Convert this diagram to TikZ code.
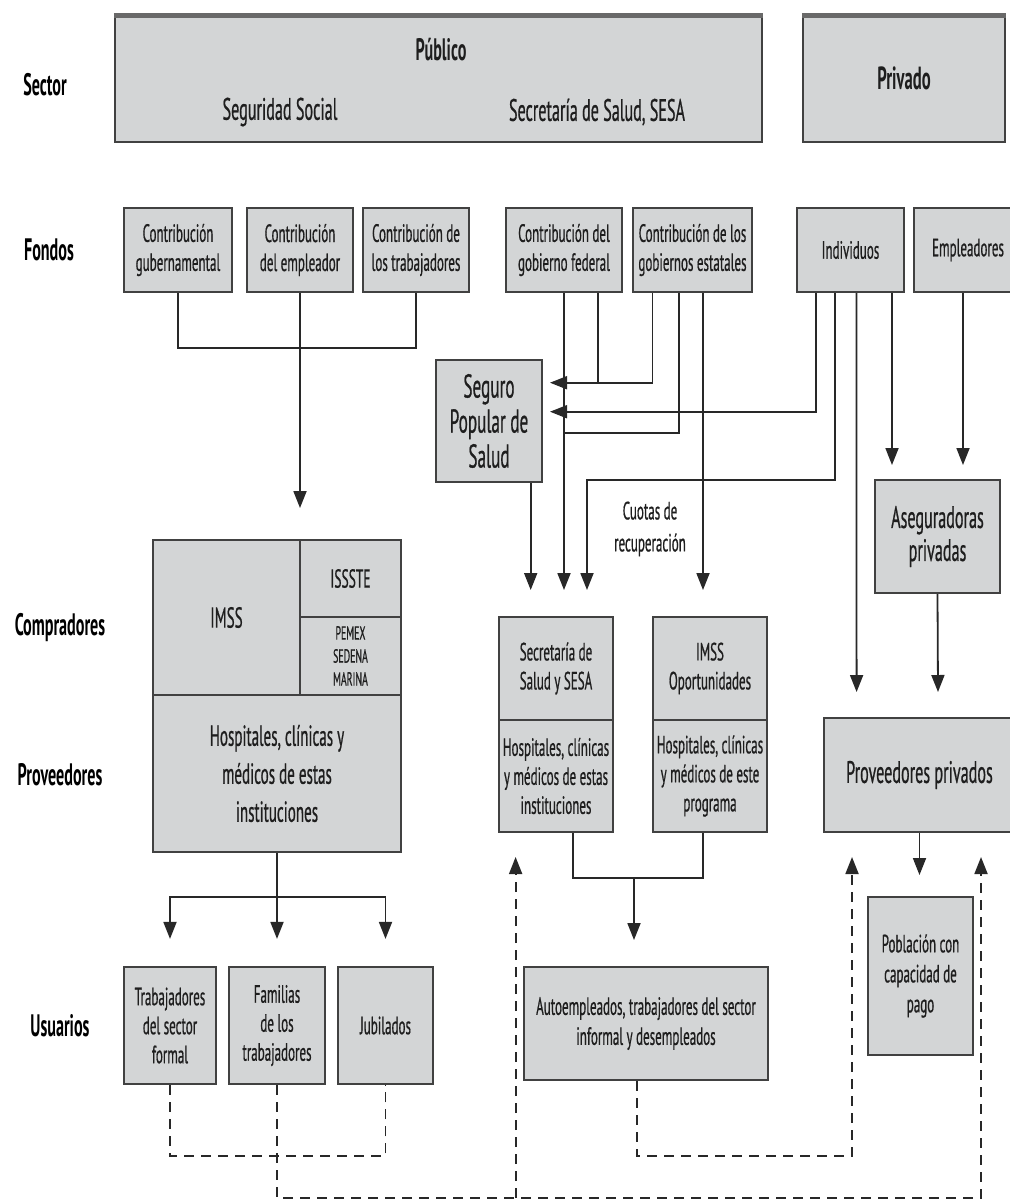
\documentclass[tikz,border=0pt]{standalone}
\usepackage{fontspec}
\setmainfont{PT Sans}[FakeStretch=0.52, UprightFeatures={FakeBold=0.6}]
\usetikzlibrary{arrows.meta,calc}
\definecolor{boxfill}{RGB}{211,213,214}
\definecolor{boxline}{RGB}{65,65,65}
\definecolor{bandc}{RGB}{105,105,105}
\definecolor{lnc}{RGB}{40,40,40}
\definecolor{txt}{RGB}{30,30,30}
\begin{document}
\begin{tikzpicture}[x=1pt,y=-1pt,
  box/.style={draw=boxline, fill=boxfill, line width=2.2pt, inner sep=0pt, align=center, text=txt, font=\fontsize{25}{29}\selectfont},
  lbl/.style={font=\bfseries\fontsize{31}{34}\selectfont, text=black},
  sectxt/.style={font=\fontsize{31}{34}\selectfont, text=txt, inner sep=0pt},
  conn/.style={draw=lnc, line width=1.8pt},
  arr/.style={conn, -{Triangle[length=17pt,width=13pt]}},
  dsh/.style={conn, dash pattern=on 10pt off 7pt},
  darr/.style={dsh, -{Triangle[length=17pt,width=13pt]}},
  band/.style={draw=bandc, line width=5pt},
]
\useasboundingbox (0,0) rectangle (1010,1203);

% ---- row labels
\node[lbl] (lsector) at (45,85) {Sector};
\node[lbl] (lfondos) at (49,250) {Fondos};
\node[lbl] (lcomp) at (60,628) {Compradores};
\node[lbl] (lprov) at (60,775) {Proveedores};
\node[lbl] (lusu) at (60,1026) {Usuarios};

% ---- sector
\node[box, minimum width=647pt, minimum height=128pt] (pub) at (438.5,78) {};
\draw[band] ([yshift=-2.5pt]pub.north west) -- ([yshift=-2.5pt]pub.north east);
\node[sectxt] (tpub) at (441,50) {\bfseries Público};
\node[sectxt] (tss) at (280,112) {Seguridad Social};
\node[sectxt] (tsesa) at (597,112) {Secretaría de Salud, SESA};
\node[box, minimum width=202pt, minimum height=128pt, font=\bfseries\fontsize{32}{34}\selectfont] (priv) at (904,78) {Privado};
\draw[band] ([yshift=-2.5pt]priv.north west) -- ([yshift=-2.5pt]priv.north east);

% ---- fondos
\node[box, minimum width=108pt, minimum height=84pt] (f1) at (178,250) {Contribución\\gubernamental};
\node[box, minimum width=106pt, minimum height=84pt] (f2) at (300,250) {Contribución\\del empleador};
\node[box, minimum width=106pt, minimum height=84pt] (f3) at (416,250) {Contribución de\\los trabajadores};
\node[box, minimum width=116pt, minimum height=84pt] (f4) at (564,250) {Contribución del\\gobierno federal};
\node[box, minimum width=119pt, minimum height=84pt] (f5) at (692.5,250) {Contribución de los\\gobiernos estatales};
\node[box, minimum width=107pt, minimum height=84pt] (f6) at (850.5,250) {Individuos};
\node[box, minimum width=108pt, minimum height=84pt] (f7) at (968,250) {Empleadores};

% ---- intermediates
\node[box, minimum width=106pt, minimum height=122pt, font=\fontsize{33}{35}\selectfont] (sp) at (489,421) {Seguro\\Popular de\\Salud};
\node[box, minimum width=125pt, minimum height=113pt, font=\fontsize{31}{33}\selectfont] (as) at (937.5,536.5) {Aseguradoras\\privadas};
\node[font=\fontsize{25}{32}\selectfont, text=txt, align=center, inner sep=0pt] (cuotas) at (650,529) {Cuotas de\\recuperación};

% ---- compradores / proveedores
\node[box, minimum width=147pt, minimum height=155pt, font=\fontsize{29}{32}\selectfont] (imss) at (226.5,617.5) {IMSS};
\node[box, minimum width=101pt, minimum height=77pt, font=\fontsize{26}{32}\selectfont] (issste) at (350.5,578.5) {ISSSTE};
\node[box, minimum width=101pt, minimum height=78pt, font=\fontsize{19}{23}\selectfont] (pemex) at (350.5,656) {PEMEX\\SEDENA\\MARINA};
\node[box, minimum width=248pt, minimum height=157pt, font=\fontsize{29}{38}\selectfont] (hosp1) at (277,773.5) {Hospitales, clínicas y\\médicos de estas\\instituciones};

\node[box, minimum width=114pt, minimum height=103pt] (ss) at (556,668.5) {Secretaría de\\Salud y SESA};
\node[box, minimum width=114pt, minimum height=112pt] (hs) at (556,776) {Hospitales, clínicas\\y médicos de estas\\instituciones};
\node[box, minimum width=114pt, minimum height=103pt] (io) at (710,668.5) {IMSS\\Oportunidades};
\node[box, minimum width=114pt, minimum height=112pt] (ho) at (710,776) {Hospitales, clínicas\\y médicos de este\\programa};
\node[box, minimum width=191pt, minimum height=114pt, font=\fontsize{31}{32}\selectfont] (pp) at (919.5,775) {Proveedores privados};

% ---- usuarios
\node[box, minimum width=92pt, minimum height=117pt] (u1) at (170,1025.5) {Trabajadores\\del sector\\formal};
\node[box, minimum width=96pt, minimum height=117pt] (u2) at (277,1025.5) {Familias\\de los\\trabajadores};
\node[box, minimum width=95pt, minimum height=117pt] (u3) at (385.5,1025.5) {Jubilados};
\node[box, minimum width=244pt, minimum height=113pt, font=\fontsize{25}{30}\selectfont] (auto) at (646,1023.5) {Autoempleados, trabajadores del sector\\informal y desempleados};
\node[box, minimum width=105pt, minimum height=158pt, font=\fontsize{25}{30}\selectfont] (pob) at (920.5,976) {Población con\\capacidad de\\pago};

% ---- connectors: social security funds
\coordinate (jss) at (300,348);
\coordinate (tImss) at (300,508);
\draw[conn] (f1.south) |- (jss) -| (f3.south);
\draw[arr] (f2.south) -- (tImss);

% ---- public funds
\coordinate (tSP1) at (550,382.7);
\coordinate (tSP2) at (550,411.7);
\coordinate (j3) at (564,433);
\coordinate (k1) at (587,480);
\coordinate (tSS1) at (530.7,590);
\coordinate (tSS2) at (564,590);
\coordinate (tSS3) at (587,590);
\coordinate (tIO) at (703,590);
\coordinate (tPP1) at (856.6,692);
\coordinate (tPP2) at (938,692);
\coordinate (tAS1) at (892,465);
\coordinate (tAS2) at (963,465);

\draw[arr] (f4.south) -- (tSS2);
\draw[conn] ([xshift=33.6pt]f4.south) -- ([xshift=33.6pt]f4.south |- tSP1);
\draw[arr] ([xshift=-40pt]f5.south) |- (tSP1);
\draw[conn] ([xshift=-13.5pt]f5.south) |- (j3);
\draw[arr] ([xshift=10.5pt]f5.south) -- (tIO);
\draw[arr] ([xshift=-34.5pt]f6.south) |- (tSP2);
\draw[arr] ([xshift=-15.5pt]f6.south) |- (k1) -- (tSS3);
\draw[arr] ([xshift=6pt]f6.south) -- (tPP1);
\draw[arr] ([xshift=41.5pt]f6.south) -- (tAS1);
\draw[arr] ([xshift=-5pt]f7.south) -- (tAS2);
\draw[arr] (as.south) -- (tPP2);
\draw[arr] ([xshift=41.7pt]sp.south) -- (tSS1);

% ---- to users
\coordinate (jU) at (277,896.7);
\draw[conn] (hosp1.south) -- (jU);
\draw[arr] (jU) -| ([yshift=27pt]u1.north);
\draw[arr] (jU) -- ([yshift=27pt]u2.north);
\draw[arr] (jU) -| ([yshift=27pt]u3.north);

\coordinate (hsB) at ([xshift=17pt]hs.south);
\coordinate (hoB) at ([xshift=-7pt]ho.south);
\coordinate (jA) at (634,878);
\coordinate (tAU) at (634,940);
\draw[conn] (hsB) |- (jA) -| (hoB);
\draw[arr] (jA) -- (tAU);

\coordinate (tPob) at (919.5,875);
\draw[arr] (pp.south) -- (tPob);

% ---- dashed feedback
\coordinate (d2) at (385.5,1156);
\draw[dsh] (u1.south) |- (d2) -- (u3.south);
\coordinate (b1) at (277,1198);
\coordinate (b2) at (981,1198);
\coordinate (tPP3) at (981,857);
\draw[darr] (u2.south) -- (b1) -- (b2) -- (tPP3);
\coordinate (b3) at (515.6,1198);
\coordinate (tSSd) at (515.6,857);
\draw[darr] (b3) -- (tSSd);
\coordinate (b4) at (852,1156);
\coordinate (tPPd) at (852,857);
\draw[darr] ([xshift=-9pt]auto.south) |- (b4) -- (tPPd);
\end{tikzpicture}
\end{document}
